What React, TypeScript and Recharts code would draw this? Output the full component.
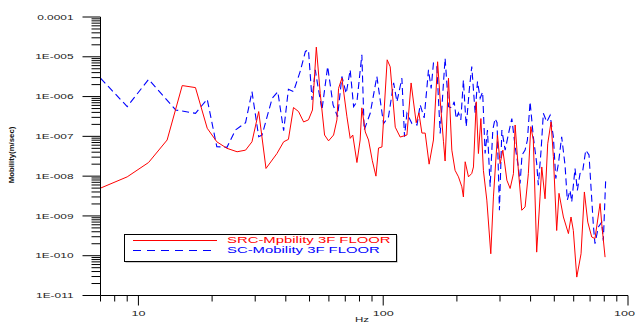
import { LineChart, Line, XAxis, YAxis, Legend } from "recharts";

// [Hz, m/sec]
const srcMobility: [number, number][] = [
  [7, 5e-9], [9, 9.6e-9], [11, 2.2e-8], [13.1, 8.1e-8], [15.1, 1.89e-6], [17.1, 1.68e-6], [19.1, 1.6e-7],
  [20.9, 7.3e-8], [23, 5e-8], [25.3, 4.1e-8], [27.4, 4.5e-8], [29.1, 7.3e-8], [31, 4.2e-7], [33.2, 1.56e-8],
  [36.8, 3.7e-8], [39.2, 7.3e-8], [41, 8.4e-8], [43, 5.3e-7], [45.1, 4.2e-7], [47.3, 2.3e-7], [49.5, 2.6e-7],
  [51.4, 4.6e-7], [53.3, 1.75e-5], [55.3, 1.2e-6], [57.6, 1.08e-7], [59.8, 7.7e-8], [62.7, 1.08e-7],
  [64.7, 2.6e-7], [65.7, 1.6e-6], [67.8, 2.9e-6], [71.1, 3.1e-7], [73.3, 8.9e-8], [75.1, 1.08e-7],
  [78.1, 2.2e-8], [80.5, 8.1e-8], [81.8, 5.2e-7], [84.5, 1.29e-7], [87.1, 8.1e-8], [90.2, 2.5e-8],
  [93.4, 1e-8], [95.7, 5.1e-8], [98.8, 5.4e-8], [103.8, 8.4e-6], [106.8, 5.6e-6], [112, 1.7e-7],
  [117.3, 9.6e-8], [125, 1.08e-7], [130, 2.2e-6], [133, 7.3e-7], [136.4, 2.2e-7], [139.9, 3.9e-7],
  [143.9, 1.21e-7], [148.4, 1.21e-7], [154, 2e-8], [160.4, 8.1e-8], [166.8, 7.5e-6], [170.9, 8.2e-7],
  [176.3, 7.3e-8], [179, 2.4e-8], [184.8, 2.9e-6], [190.7, 4.5e-8], [196.6, 1.4e-8], [203, 9.6e-9],
  [209.5, 5.4e-9], [212.6, 3e-9], [216.2, 2.3e-8], [223, 9.6e-9], [230, 1.17e-8], [233.7, 1.7e-8],
  [239.9, 7.4e-7], [244.9, 3.7e-8], [250.6, 2.8e-7], [256.6, 1.4e-8], [265, 2.5e-9], [275.1, 1.12e-10],
  [282, 3e-9], [292.9, 1.08e-7], [300.4, 2.05e-8], [308.1, 4.5e-8], [314.9, 1.7e-8], [320, 7.9e-9],
  [330, 4.9e-9], [340.4, 1.15e-8], [345.9, 1.93e-7], [356.6, 1.4e-8], [368.2, 1.39e-9], [379.8, 1.68e-9],
  [391.7, 1.15e-8], [400.8, 1.75e-7], [410.4, 8.1e-8], [423.6, 1.23e-10], [437.2, 3e-9], [444.4, 1.7e-8],
  [458.3, 2.7e-9], [469.9, 6.5e-8], [484.9, 2.3e-7], [495.6, 3.1e-8], [511.3, 4.3e-10], [522.6, 3.7e-9],
  [544.6, 9.4e-10], [571, 3.6e-10], [585, 9.4e-10], [598, 4.3e-10], [617.6, 2.9e-11], [643, 1.12e-10],
  [663.5, 4e-9], [685, 7e-10], [711, 2.95e-10], [733, 2.7e-10], [769, 2.05e-9], [781, 6.4e-10], [806, 9.2e-11],
];

const scMobility: [number, number][] = [
  [7, 2.9e-6], [9, 5.6e-7], [11, 2.7e-6], [14.2, 4.6e-7], [17.1, 3.8e-7], [19.1, 8.6e-7], [20.9, 5.5e-8],
  [23, 5.3e-8], [24.9, 1.44e-7], [27.4, 2.2e-7], [29.1, 1.33e-6], [31, 9.8e-8], [32, 1.08e-7], [35.2, 9.1e-7],
  [37.1, 1.33e-6], [39.2, 1.38e-7], [41, 1.53e-6], [43, 1.33e-6], [45.8, 4.3e-6], [48.1, 1.36e-5],
  [49.5, 1.5e-5], [51.2, 8.2e-7], [52.8, 4.7e-6], [53.6, 2.6e-6], [56.2, 4.6e-7], [59.3, 5.7e-6],
  [62.4, 6.2e-7], [65.1, 3.1e-7], [67.8, 3.2e-6], [70.6, 1.2e-6], [73.3, 4.7e-6], [75.7, 5.6e-7],
  [78.1, 7.4e-7], [81.8, 1.12e-5], [83.6, 1.44e-7], [88.5, 3.8e-7], [94.2, 3.2e-6], [100.3, 2.1e-7],
  [105.1, 3.1e-7], [110.3, 2.2e-6], [113.8, 7.4e-7], [119.2, 2.9e-6], [122.2, 9.8e-8], [125, 3.8e-7],
  [131, 2.1e-7], [137.4, 1.93e-7], [141.6, 6.2e-7], [147, 2.9e-7], [153.1, 4.7e-6], [157, 1.6e-6],
  [160.4, 6.9e-6], [165.6, 5.7e-6], [170.9, 1.19e-7], [179, 9.2e-6], [184.8, 5.6e-7], [190.7, 5.2e-7],
  [195, 7.4e-7], [198.7, 2.8e-7], [203, 3.9e-7], [207.5, 2.6e-7], [212.6, 2.6e-6], [218.3, 1.75e-7],
  [225, 1.6e-6], [230, 5.7e-6], [237.5, 3.8e-7], [242.7, 2.4e-6], [248.9, 9.1e-7], [254.8, 1.3e-6],
  [260.8, 3.7e-8], [266.6, 1.44e-7], [273.4, 5.4e-9], [280.3, 1.44e-7], [286.4, 2.8e-7], [291.8, 2.2e-7],
  [298.4, 1.39e-9], [305.3, 1.44e-7], [314.9, 4.5e-8], [325.2, 1.19e-7], [335.3, 2.8e-7], [345.9, 5.5e-8],
  [356.6, 1.7e-8], [362.4, 6.5e-9], [369, 3.4e-8], [379.8, 4.5e-8], [388.2, 8.1e-8], [398.1, 7.4e-7],
  [410.4, 9.8e-8], [423.6, 2.1e-8], [430.1, 5.9e-9], [441.6, 4.5e-8], [451, 3.8e-7], [465.7, 2.3e-7],
  [480.5, 3.4e-7], [495.6, 9.8e-8], [507, 8.7e-9], [519.9, 2.1e-8], [535.8, 9.8e-8], [553, 1.9e-8],
  [565, 2.5e-9], [579.8, 4.4e-9], [589, 2.25e-9], [607.6, 1.56e-8], [621, 4.4e-9], [637, 1.17e-8],
  [652, 1.26e-8], [672, 4.5e-8], [693, 3.4e-8], [722, 5.8e-10], [733, 2e-10], [757, 5.3e-10],
  [781, 7e-10], [793, 2.4e-10], [811, 8.7e-9],
];

const seriesNames = ["SRC-Mpbility 3F FLOOR", "SC-Mobility 3F FLOOR"];

const xTicks = [7, 8, 9, 10, 20, 30, 40, 50, 60, 70, 80, 90, 100, 200, 300, 400, 500, 600, 700, 800, 900, 1000];
const xTickLabels: Record<number, string> = { 10: "10", 100: "100", 1000: "1000" };

const yDecades = [1e-11, 1e-10, 1e-9, 1e-8, 1e-7, 1e-6, 1e-5, 1e-4];
const yTickLabels = ["1E-011", "1E-010", "1E-009", "1E-008", "1E-007", "1E-006", "1E-005", "0.0001"];
const minorSteps = [2, 3, 4, 5, 6, 7, 8, 9];

const yTicks: number[] = [];
yDecades.forEach((d, i) => {
  yTicks.push(d);
  if (i < yDecades.length - 1) minorSteps.forEach((k) => yTicks.push(k * d));
});

const redData = srcMobility.map(([f, v]) => ({ f, v }));
const blueData = scMobility.map(([f, v]) => ({ f, v }));

const FONT = "'Liberation Sans', Arial, Helvetica, sans-serif";

function isDecade(v: number) {
  const l = Math.log10(v);
  return Math.abs(l - Math.round(l)) < 1e-6;
}

function YTick({ x, y, payload }: any) {
  const major = isDecade(payload.value);
  const idx = yDecades.findIndex((d) => Math.abs(Math.log10(d) - Math.log10(payload.value)) < 1e-6);
  return (
    <g>
      <line x1={x} x2={x - (major ? 18 : 9)} y1={y} y2={y} stroke="#000" strokeWidth={1} />
      {major && idx >= 0 && (
        <text
          transform={`translate(${x - 27},${y + 2.7}) scale(1.65,1)`}
          textAnchor="end"
          fontSize={7.2}
          fontFamily={FONT}
          fill="#222"
        >
          {yTickLabels[idx]}
        </text>
      )}
    </g>
  );
}

function XTick({ x, y, payload }: any) {
  const label = xTickLabels[payload.value];
  return (
    <g>
      <line x1={x} x2={x} y1={y} y2={y + (label ? 10 : 6)} stroke="#000" strokeWidth={1} />
      {label && (
        <text
          transform={`translate(${x},${y + 20.5}) scale(1.75,1)`}
          textAnchor="middle"
          fontSize={7.2}
          fontFamily={FONT}
          fill="#222"
        >
          {label}
        </text>
      )}
    </g>
  );
}

function LegendBox() {
  return (
    <svg width={276} height={30} style={{ display: "block" }}>
      <rect x={1.5} y={1.5} width={272} height={27} fill="#999" />
      <rect x={0.5} y={0.5} width={272} height={27} fill="#fff" stroke="#000" />
      <line x1={9} x2={93} y1={6.5} y2={6.5} stroke="#ff0000" />
      <text transform="translate(103,9.3) scale(1.75,1)" fontSize={8.5} fontFamily={FONT} fill="#ff0000">
        {seriesNames[0]}
      </text>
      <line x1={9} x2={90} y1={16.5} y2={16.5} stroke="#0000ff" strokeDasharray="8 6" />
      <text transform="translate(103,19.3) scale(1.75,1)" fontSize={8.5} fontFamily={FONT} fill="#0000ff">
        {seriesNames[1]}
      </text>
    </svg>
  );
}

export default function App() {
  return (
    <div style={{ position: "relative", width: 635, height: 315 }}>
      <LineChart width={635} height={315} margin={{ top: 9, right: 15, bottom: 0, left: 0 }}>
        <XAxis
          dataKey="f"
          type="number"
          scale="log"
          domain={[7, 1000]}
          allowDataOverflow
          ticks={xTicks}
          interval={0}
          tick={<XTick />}
          tickLine={false}
          tickSize={0}
          tickMargin={0}
          axisLine={{ stroke: "#000" }}
          height={27.5}
        />
        <YAxis
          dataKey="v"
          type="number"
          scale="log"
          domain={[1e-11, 1e-4]}
          allowDataOverflow
          ticks={yTicks}
          interval={0}
          tick={<YTick />}
          tickLine={false}
          tickSize={0}
          tickMargin={0}
          axisLine={{ stroke: "#000" }}
          width={92.5}
        />
        <Line
          data={blueData}
          dataKey="v"
          name={seriesNames[1]}
          type="linear"
          stroke="#0000ff"
          strokeWidth={1.1}
          strokeDasharray="7 4"
          dot={false}
          isAnimationActive={false}
        />
        <Line
          data={redData}
          dataKey="v"
          name={seriesNames[0]}
          type="linear"
          stroke="#ff0000"
          strokeWidth={1}
          dot={false}
          isAnimationActive={false}
        />
        <Legend
          layout="vertical"
          align="center"
          verticalAlign="middle"
          wrapperStyle={{ left: 116, top: 226, width: 276, height: 30 }}
          content={() => <LegendBox />}
        />
      </LineChart>
      <svg width={635} height={315} style={{ position: "absolute", left: 0, top: 0, pointerEvents: "none" }}>
        <text
          transform="translate(4.5,147) rotate(-90) scale(1.2,1)"
          textAnchor="middle"
          dominantBaseline="central"
          fontSize={6.5}
          fontWeight="bold"
          fontFamily={FONT}
          fill="#111"
        >
          Mobility(m/sec)
        </text>
        <text transform="translate(354,313.5) scale(1.6,1)" textAnchor="middle" fontSize={7.2} fontFamily={FONT} fill="#222">
          Hz
        </text>
      </svg>
    </div>
  );
}
